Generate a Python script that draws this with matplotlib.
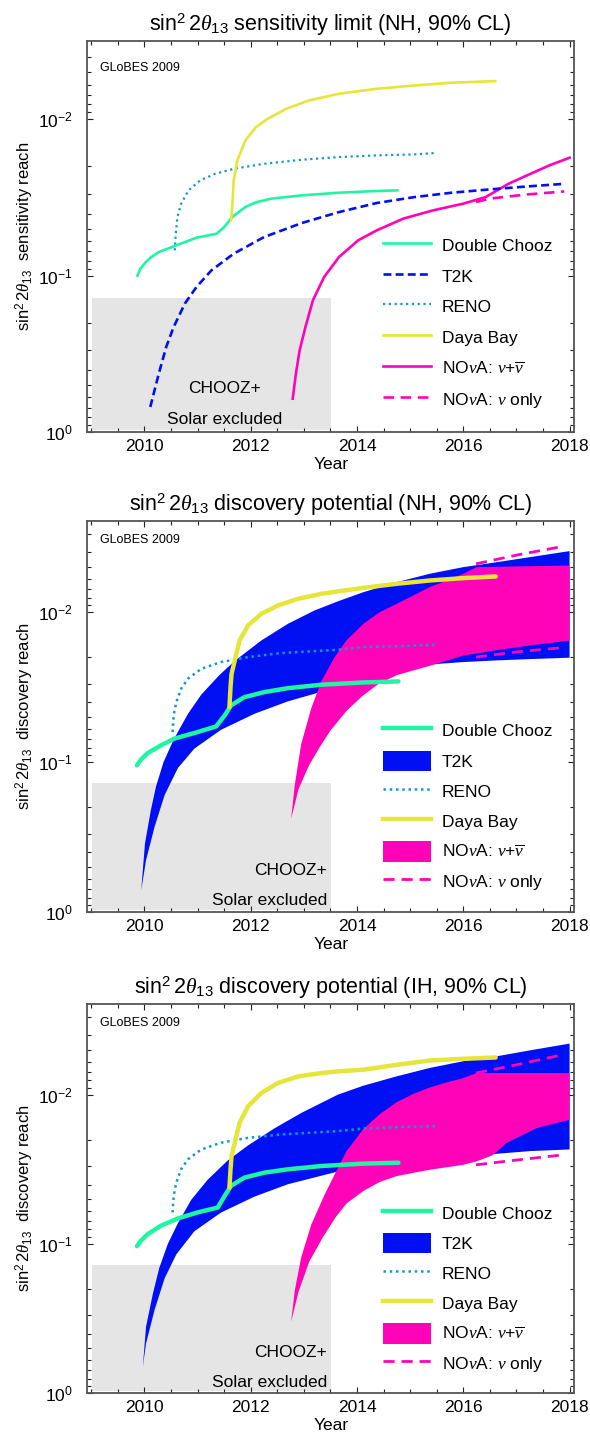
import numpy as np
import matplotlib
matplotlib.use('Agg')
import matplotlib.pyplot as plt
from matplotlib.lines import Line2D
from matplotlib.patches import Patch
from matplotlib.ticker import MultipleLocator, LogLocator, NullFormatter

plt.rcParams['font.family'] = ['Liberation Sans', 'DejaVu Sans']
plt.rcParams['mathtext.fontset'] = 'custom'
plt.rcParams['mathtext.rm'] = 'Liberation Sans'
plt.rcParams['mathtext.it'] = 'Liberation Serif:italic'
plt.rcParams['mathtext.bf'] = 'Liberation Sans:bold'

# ---- panel 1: sensitivity limit (values as log10 of sin^2 2theta13) ----
dc1_yr = [2009.87, 2009.92, 2010.02, 2010.13, 2010.27, 2010.55, 2010.98, 2011.36, 2011.5, 2011.65, 2011.9, 2012.1, 2012.39, 2012.96, 2013.66, 2014.37, 2014.76]
dc1_lg = [-1.0, -1.043, -1.085, -1.12, -1.151, -1.188, -1.243, -1.269, -1.311, -1.375, -1.44, -1.47, -1.493, -1.514, -1.531, -1.542, -1.546]
t2k1_yr = [2010.11, 2010.27, 2010.41, 2010.55, 2010.76, 2010.98, 2011.26, 2011.68, 2012.25, 2012.96, 2013.66, 2014.37, 2015.08, 2015.78, 2016.49, 2017.2, 2017.9]
t2k1_lg = [-0.16, -0.373, -0.544, -0.672, -0.821, -0.928, -1.034, -1.141, -1.247, -1.337, -1.407, -1.465, -1.503, -1.531, -1.552, -1.571, -1.588]
reno1_yr = [2010.57, 2010.59, 2010.62, 2010.69, 2010.83, 2011.05, 2011.33, 2011.68, 2012.25, 2012.96, 2013.66, 2014.37, 2015.08, 2015.47]
reno1_lg = [-1.162, -1.269, -1.375, -1.46, -1.546, -1.61, -1.652, -1.684, -1.716, -1.742, -1.759, -1.77, -1.776, -1.785]
db1_yr = [2011.63, 2011.66, 2011.68, 2011.75, 2011.9, 2012.1, 2012.32, 2012.67, 2013.1, 2013.66, 2014.37, 2015.08, 2015.78, 2016.6]
db1_lg = [-1.354, -1.482, -1.61, -1.738, -1.866, -1.951, -2.004, -2.068, -2.122, -2.164, -2.196, -2.217, -2.235, -2.245]
nova1_yr = [2012.79, 2012.85, 2012.92, 2013.03, 2013.17, 2013.38, 2013.66, 2014.02, 2014.37, 2014.87, 2015.43, 2016.0, 2016.42, 2016.85, 2017.2, 2017.62, 2018.0]
nova1_lg = [-0.213, -0.373, -0.522, -0.672, -0.842, -0.991, -1.119, -1.226, -1.29, -1.365, -1.418, -1.461, -1.503, -1.588, -1.642, -1.706, -1.755]
nu1_yr = [2016.24, 2016.49, 2017.2, 2017.9]
nu1_lg = [-1.471, -1.493, -1.52, -1.539]

# ---- panel 2: discovery potential, NH ----
dc2_yr = [2009.86, 2009.93, 2010.06, 2010.31, 2010.56, 2011.0, 2011.35, 2011.51, 2011.63, 2011.88, 2012.26, 2012.7, 2013.33, 2014.12, 2014.78]
dc2_lg = [-0.978, -1.015, -1.06, -1.111, -1.156, -1.2, -1.238, -1.311, -1.378, -1.433, -1.467, -1.493, -1.516, -1.531, -1.538]
reno2_yr = [2010.53, 2010.55, 2010.6, 2010.69, 2010.82, 2011.07, 2011.44, 2011.95, 2012.57, 2013.64, 2014.12, 2014.75, 2015.47]
reno2_lg = [-1.2, -1.311, -1.4, -1.489, -1.556, -1.622, -1.667, -1.7, -1.727, -1.749, -1.767, -1.773, -1.782]
db2_yr = [2011.6, 2011.62, 2011.64, 2011.7, 2011.79, 2011.95, 2012.2, 2012.51, 2012.89, 2013.33, 2013.64, 2014.12, 2014.75, 2015.37, 2016.0, 2016.61]
db2_lg = [-1.367, -1.5, -1.589, -1.678, -1.811, -1.911, -1.989, -2.044, -2.089, -2.122, -2.138, -2.162, -2.189, -2.211, -2.227, -2.238]
t2k2_hi_yr = [2009.94, 2010.01, 2010.12, 2010.22, 2010.36, 2010.55, 2010.82, 2011.07, 2011.41, 2011.7, 2012.2, 2012.7, 2013.2, 2013.64, 2014.12, 2014.75, 2015.37, 2016.0, 2016.63, 2017.26, 2018.0]
t2k2_hi_lg = [-0.145, -0.456, -0.678, -0.84, -1.0, -1.15, -1.322, -1.45, -1.58, -1.675, -1.811, -1.922, -2.011, -2.072, -2.133, -2.2, -2.256, -2.3, -2.333, -2.367, -2.407]
t2k2_lo_yr = [2009.94, 2010.03, 2010.19, 2010.38, 2010.63, 2010.94, 2011.44, 2012.07, 2012.7, 2013.64, 2014.12, 2014.75, 2015.37, 2016.0, 2016.63, 2017.26, 2018.0]
t2k2_lo_lg = [-0.145, -0.345, -0.567, -0.78, -0.96, -1.09, -1.215, -1.322, -1.405, -1.5, -1.575, -1.622, -1.651, -1.667, -1.678, -1.687, -1.696]
nova2_hi_yr = [2012.76, 2012.83, 2012.95, 2013.14, 2013.33, 2013.58, 2013.8, 2014.12, 2014.43, 2014.75, 2015.06, 2015.37, 2015.69, 2016.0, 2016.25, 2018.0]
nova2_hi_lg = [-0.622, -0.85, -1.12, -1.36, -1.54, -1.7, -1.811, -1.922, -2.0, -2.056, -2.111, -2.167, -2.211, -2.256, -2.3, -2.311]
nova2_lo_yr = [2012.76, 2012.9, 2013.1, 2013.3, 2013.5, 2013.8, 2014.1, 2014.4, 2014.75, 2015.4, 2016.0, 2016.6, 2017.3, 2018.0]
nova2_lo_lg = [-0.622, -0.82, -0.98, -1.10, -1.21, -1.34, -1.44, -1.52, -1.58, -1.645, -1.71, -1.745, -1.78, -1.81]
nu2_yr = [2016.24, 2017.0, 2017.9]
nu2_hi_lg = [-2.322, -2.38, -2.44]
nu2_lo_lg = [-1.7, -1.735, -1.764]

# ---- panel 3: discovery potential, IH ----
dc3_yr = [2009.86, 2009.93, 2010.06, 2010.31, 2010.63, 2011.0, 2011.38, 2011.51, 2011.63, 2011.88, 2012.26, 2012.7, 2013.33, 2014.12, 2014.78]
dc3_lg = [-0.985, -1.02, -1.065, -1.122, -1.171, -1.211, -1.244, -1.322, -1.389, -1.444, -1.478, -1.5, -1.522, -1.538, -1.544]
reno3_yr = [2010.53, 2010.55, 2010.6, 2010.69, 2010.82, 2011.07, 2011.44, 2011.95, 2012.57, 2013.64, 2014.12, 2014.75, 2015.47]
reno3_lg = [-1.211, -1.322, -1.411, -1.5, -1.567, -1.633, -1.678, -1.711, -1.733, -1.756, -1.773, -1.782, -1.789]
db3_yr = [2011.6, 2011.62, 2011.64, 2011.7, 2011.79, 2011.95, 2012.2, 2012.51, 2012.89, 2013.33, 2013.64, 2014.12, 2014.75, 2015.37, 2016.0, 2016.61]
db3_lg = [-1.378, -1.5, -1.589, -1.678, -1.811, -1.922, -2.011, -2.078, -2.122, -2.145, -2.156, -2.167, -2.2, -2.229, -2.24, -2.249]
t2k3_hi_yr = [2009.97, 2010.03, 2010.16, 2010.28, 2010.44, 2010.63, 2010.88, 2011.19, 2011.57, 2011.95, 2012.45, 2012.95, 2013.64, 2014.12, 2014.75, 2015.37, 2016.0, 2016.63, 2017.26, 2018.0]
t2k3_hi_lg = [-0.176, -0.445, -0.668, -0.84, -1.0, -1.139, -1.295, -1.43, -1.56, -1.66, -1.775, -1.877, -2.0, -2.06, -2.123, -2.179, -2.224, -2.257, -2.297, -2.342]
t2k3_lo_yr = [2009.97, 2010.03, 2010.19, 2010.38, 2010.6, 2010.94, 2011.44, 2012.07, 2012.7, 2013.64, 2014.12, 2014.75, 2015.37, 2016.0, 2016.63, 2017.26, 2018.0]
t2k3_lo_lg = [-0.176, -0.333, -0.557, -0.77, -0.93, -1.085, -1.21, -1.317, -1.4, -1.485, -1.53, -1.56, -1.58, -1.593, -1.604, -1.622, -1.633]
nova3_hi_yr = [2012.76, 2012.83, 2012.95, 2013.14, 2013.39, 2013.6, 2013.8, 2014.12, 2014.43, 2014.75, 2015.06, 2015.37, 2015.69, 2016.0, 2016.25, 2018.0]
nova3_hi_lg = [-0.478, -0.69, -0.91, -1.13, -1.33, -1.48, -1.62, -1.77, -1.87, -1.95, -2.005, -2.048, -2.082, -2.111, -2.145, -2.145]
nova3_lo_yr = [2012.76, 2012.9, 2013.1, 2013.35, 2013.6, 2013.8, 2014.12, 2014.43, 2014.75, 2015.37, 2016.0, 2016.25, 2016.56, 2016.81, 2017.38, 2018.0]
nova3_lo_lg = [-0.478, -0.68, -0.88, -1.04, -1.18, -1.27, -1.355, -1.415, -1.455, -1.497, -1.53, -1.553, -1.595, -1.676, -1.776, -1.832]
nu3_yr = [2016.24, 2017.0, 2017.88]
nu3_hi_lg = [-2.145, -2.2, -2.268]
nu3_lo_lg = [-1.53, -1.562, -1.597]

# excluded region (CHOOZ + solar)
box_yr = [2009.02, 2013.52]
box_val = [0.138, 0.965]

titles = [r'$\sin^2 2\theta_{13}$ sensitivity limit (NH, 90% CL)',
          r'$\sin^2 2\theta_{13}$ discovery potential (NH, 90% CL)',
          r'$\sin^2 2\theta_{13}$ discovery potential (IH, 90% CL)']
ylabels = [r'$\sin^2 2\theta_{13}$  sensitivity reach',
           r'$\sin^2 2\theta_{13}$  discovery reach',
           r'$\sin^2 2\theta_{13}$  discovery reach']
legend_labels = ['Double Chooz', 'T2K', 'RENO', 'Daya Bay',
                 r'NO$\nu$A: $\nu$+$\overline{\nu}$', r'NO$\nu$A: $\nu$ only']

c_dc = '#20f5a4'
c_t2k = '#0010f2'
c_reno = '#1199cc'
c_db = '#e5e53a'
c_nova = '#ff03b8'
c_box = '#e5e5e5'


def v(lg):
    return 10.0 ** np.array(lg)


def style_axes(ax, top_val):
    ax.set_yscale('log')
    ax.set_xlim(2008.92, 2018.09)
    ax.set_ylim(1.0, top_val)
    ax.xaxis.set_major_locator(MultipleLocator(2))
    ax.xaxis.set_minor_locator(MultipleLocator(0.5))
    ax.yaxis.set_major_locator(LogLocator(base=10, numticks=10))
    ax.yaxis.set_minor_locator(LogLocator(base=10, subs=np.arange(2, 10), numticks=10))
    ax.yaxis.set_minor_formatter(NullFormatter())
    ax.tick_params(which='both', direction='in', top=True, right=True,
                   labelsize=12.5, color='#222222', width=0.8)
    ax.tick_params(which='major', length=4.5)
    ax.tick_params(which='minor', length=3)
    ax.tick_params(axis='x', pad=5)
    ax.tick_params(axis='y', pad=10)
    for sp in ax.spines.values():
        sp.set_color('#555555')
        sp.set_linewidth(1.3)
    ax.set_xlabel('Year', fontsize=12.5, labelpad=2)


def add_box(ax, right_align):
    ax.fill_between(box_yr, box_val[0], box_val[1], color=c_box, lw=0, zorder=0)
    if right_align:
        ax.text(2013.44, 10 ** -0.275, 'CHOOZ+', ha='right', va='center', fontsize=12.5)
        ax.text(2013.44, 10 ** -0.074, 'Solar excluded', ha='right', va='center', fontsize=12.5)
    else:
        ax.text(2011.5, 10 ** -0.277, 'CHOOZ+', ha='center', va='center', fontsize=12.5)
        ax.text(2011.5, 10 ** -0.081, 'Solar excluded', ha='center', va='center', fontsize=12.5)


fig = plt.figure(figsize=(5.9, 14.39), dpi=100)
ax1 = fig.add_axes([0.1475, 0.6998, 0.826, 0.2717])
ax2 = fig.add_axes([0.1475, 0.3662, 0.826, 0.2717])
ax3 = fig.add_axes([0.1475, 0.0318, 0.826, 0.2705])

# panel 1
add_box(ax1, False)
ax1.plot(nova1_yr, v(nova1_lg), color=c_nova, lw=1.9)
ax1.plot(nu1_yr, v(nu1_lg), color=c_nova, lw=1.9, ls=(0, (4, 2.5)))
ax1.plot(t2k1_yr, v(t2k1_lg), color=c_t2k, lw=1.9, ls=(0, (3, 1.6)))
ax1.plot(reno1_yr, v(reno1_lg), color=c_reno, lw=1.6, ls=(0, (1, 1.6)))
ax1.plot(dc1_yr, v(dc1_lg), color=c_dc, lw=1.9)
ax1.plot(db1_yr, v(db1_lg), color=c_db, lw=1.9)

# panels 2 and 3 (bands)
bands = [
    (ax2, dc2_yr, dc2_lg, reno2_yr, reno2_lg, db2_yr, db2_lg,
     t2k2_hi_yr, t2k2_hi_lg, t2k2_lo_yr, t2k2_lo_lg,
     nova2_hi_yr, nova2_hi_lg, nova2_lo_yr, nova2_lo_lg, nu2_yr, nu2_hi_lg, nu2_lo_lg),
    (ax3, dc3_yr, dc3_lg, reno3_yr, reno3_lg, db3_yr, db3_lg,
     t2k3_hi_yr, t2k3_hi_lg, t2k3_lo_yr, t2k3_lo_lg,
     nova3_hi_yr, nova3_hi_lg, nova3_lo_yr, nova3_lo_lg, nu3_yr, nu3_hi_lg, nu3_lo_lg),
]
for (ax, dcx, dcy, rx, ry, dbx, dby, thx, thy, tlx, tly,
     nhx, nhy, nlx, nly, nux, nuh, nul) in bands:
    add_box(ax, True)
    ax.fill(thx + tlx[::-1], np.r_[v(thy), v(tly)[::-1]], color=c_t2k, lw=0, zorder=1)
    ax.fill(nhx + nlx[::-1], np.r_[v(nhy), v(nly)[::-1]], color=c_nova, lw=0, zorder=2)
    ax.plot(nux, v(nuh), color=c_nova, lw=2.0, ls=(0, (4, 2.5)), zorder=3)
    ax.plot(nux, v(nul), color=c_nova, lw=2.0, ls=(0, (4, 2.5)), zorder=3)
    ax.plot(rx, v(ry), color=c_reno, lw=1.8, ls=(0, (1, 1.5)), zorder=3)
    ax.plot(dcx, v(dcy), color=c_dc, lw=3.2, zorder=4, solid_capstyle='round')
    ax.plot(dbx, v(dby), color=c_db, lw=3.2, zorder=4, solid_capstyle='round')

style_axes(ax1, 3.15e-3)
style_axes(ax2, 2.47e-3)
style_axes(ax3, 2.47e-3)

for ax, t, yl in zip([ax1, ax2, ax3], titles, ylabels):
    ax.set_title(t, fontsize=15.5, pad=7)
    ax.set_ylabel(yl, fontsize=12, labelpad=2)

ax1.text(0.026, 0.931, 'GLoBES 2009', fontsize=9, va='center', transform=ax1.transAxes)
ax2.text(0.026, 0.951, 'GLoBES 2009', fontsize=9, va='center', transform=ax2.transAxes)
ax3.text(0.026, 0.951, 'GLoBES 2009', fontsize=9, va='center', transform=ax3.transAxes)

# legends
h1 = [Line2D([], [], color=c_dc, lw=1.9),
      Line2D([], [], color=c_t2k, lw=1.9, ls=(0, (3, 1.6))),
      Line2D([], [], color=c_reno, lw=1.6, ls=(0, (1, 1.6))),
      Line2D([], [], color=c_db, lw=1.9),
      Line2D([], [], color=c_nova, lw=1.9),
      Line2D([], [], color=c_nova, lw=1.9, ls=(0, (4, 2.5)))]
h2 = [Line2D([], [], color=c_dc, lw=3.2),
      Patch(facecolor=c_t2k, lw=0),
      Line2D([], [], color=c_reno, lw=1.8, ls=(0, (1, 1.5))),
      Line2D([], [], color=c_db, lw=3.2),
      Patch(facecolor=c_nova, lw=0),
      Line2D([], [], color=c_nova, lw=2.0, ls=(0, (4, 2.5)))]

for ax, hs, top, sp in [(ax1, h1, 0.504, 0.59), (ax2, h2, 0.49, 0.555), (ax3, h2, 0.49, 0.555)]:
    ax.legend(hs, legend_labels, loc='upper left', bbox_to_anchor=(0.607, top),
              frameon=False, fontsize=12.5, handlelength=2.77, handleheight=1.44,
              handletextpad=0.63, labelspacing=sp, borderpad=0, borderaxespad=0)

fig.savefig('out.png', dpi=100)
